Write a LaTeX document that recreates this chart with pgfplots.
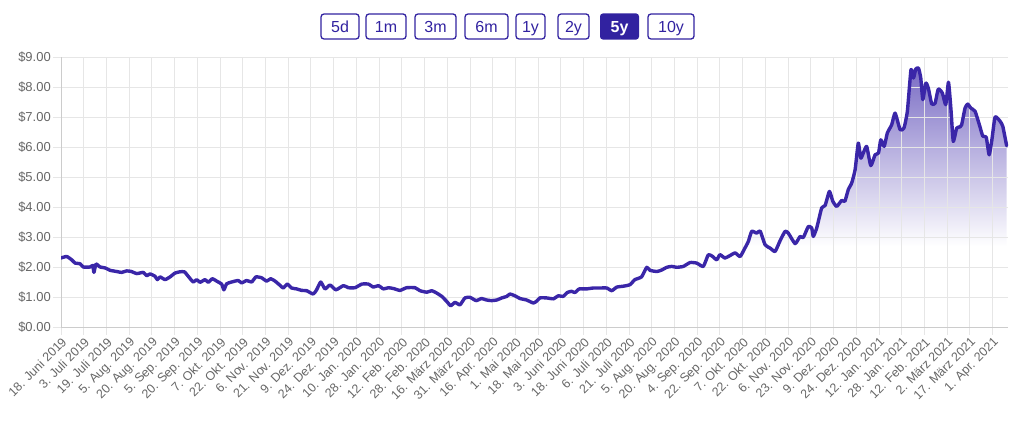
\documentclass[border=0pt]{standalone}
\usepackage{fontspec}
\setmainfont{Liberation Sans}
\usepackage{pgfplots}
\usepackage{pgfplotstable}
\pgfplotsset{compat=1.18}
\definecolor{ind}{HTML}{3A26A8}
\definecolor{btn}{HTML}{3122A0}
\definecolor{gridc}{HTML}{E6E6E6}
\definecolor{axc}{HTML}{CCCCCC}
\definecolor{lab}{HTML}{666666}
\pgfdeclareverticalshading{myfade}{100bp}{color(0bp)=(white); color(25bp)=(white); color(40.5bp)=(white); color(48bp)=(ind!15!white); color(60bp)=(ind!38!white); color(75bp)=(ind!68!white); color(100bp)=(ind!68!white)}
\pgfplotstableread{
x y
0.00 2.30
0.25 2.35
0.47 2.24
0.62 2.13
0.84 2.11
0.98 2.00
1.28 2.00
1.40 2.05
1.45 1.82
1.54 2.10
1.72 2.00
1.94 1.97
2.16 1.89
2.45 1.85
2.67 1.82
2.89 1.87
3.10 1.85
3.33 1.78
3.62 1.82
3.77 1.71
3.92 1.77
4.14 1.69
4.24 1.58
4.36 1.67
4.58 1.58
4.80 1.67
5.02 1.80
5.24 1.84
5.43 1.84
5.60 1.69
5.82 1.50
5.97 1.58
6.12 1.49
6.34 1.58
6.48 1.49
6.66 1.61
6.85 1.53
7.07 1.43
7.17 1.24
7.29 1.44
7.51 1.50
7.80 1.55
7.95 1.47
8.17 1.55
8.39 1.50
8.58 1.67
8.83 1.64
9.05 1.53
9.23 1.61
9.42 1.53
9.64 1.39
9.78 1.30
9.96 1.43
10.15 1.30
10.37 1.27
10.59 1.22
10.81 1.21
11.10 1.10
11.25 1.24
11.43 1.50
11.62 1.27
11.84 1.40
12.10 1.24
12.43 1.38
12.65 1.31
12.94 1.31
13.24 1.43
13.53 1.43
13.75 1.33
13.97 1.38
14.19 1.27
14.41 1.31
14.65 1.28
14.92 1.22
15.21 1.31
15.58 1.31
15.80 1.21
16.10 1.16
16.32 1.21
16.54 1.13
16.76 1.02
16.98 0.85
17.15 0.71
17.34 0.82
17.56 0.74
17.78 0.97
18.00 0.99
18.27 0.88
18.51 0.95
18.73 0.90
18.95 0.88
19.18 0.90
19.40 0.97
19.62 1.02
19.76 1.10
19.98 1.04
20.20 0.95
20.49 0.90
20.79 0.80
20.93 0.86
21.08 0.97
21.37 0.97
21.67 0.94
21.89 1.04
22.10 1.02
22.28 1.15
22.47 1.19
22.62 1.15
22.81 1.27
23.13 1.27
23.43 1.30
23.72 1.30
24.02 1.30
24.24 1.21
24.46 1.33
24.75 1.36
25.04 1.41
25.26 1.58
25.55 1.67
25.78 1.99
25.92 1.89
26.22 1.85
26.44 1.90
26.66 1.99
26.88 2.02
27.10 1.99
27.39 2.02
27.69 2.15
27.98 2.13
28.27 2.02
28.49 2.41
28.68 2.35
28.86 2.24
29.00 2.41
29.22 2.30
29.44 2.38
29.67 2.47
29.89 2.35
30.10 2.63
30.25 2.85
30.40 3.19
30.62 3.13
30.77 3.20
30.99 2.74
31.21 2.63
31.43 2.52
31.65 2.88
31.87 3.19
32.01 3.13
32.31 2.78
32.53 3.02
32.67 2.98
32.89 3.35
33.04 3.30
33.11 3.02
33.26 3.30
33.48 3.97
33.63 4.05
33.82 4.52
33.97 4.19
34.14 4.02
34.36 4.22
34.50 4.19
34.65 4.58
34.80 4.80
34.95 5.24
35.09 6.13
35.20 5.63
35.31 5.80
35.46 6.02
35.64 5.38
35.83 5.74
35.98 5.80
36.08 6.24
36.23 6.02
36.37 6.47
36.56 6.74
36.71 7.13
36.93 6.58
37.10 6.63
37.25 7.19
37.41 8.58
37.52 8.30
37.62 8.60
37.74 8.63
37.84 8.30
37.93 7.58
38.06 8.13
38.17 7.97
38.32 7.44
38.47 7.46
38.61 7.93
38.79 7.80
38.94 7.41
39.06 8.16
39.17 7.24
39.27 6.19
39.42 6.63
39.57 6.67
39.64 6.74
39.79 7.30
39.91 7.43
40.04 7.30
40.23 7.19
40.42 6.74
40.57 6.36
40.72 6.33
40.85 5.74
40.97 6.24
41.11 7.00
41.33 6.86
41.45 6.69
41.62 6.04
}\pricedata
\begin{document}
\begin{tikzpicture}
\foreach \xa/\xb/\t in {321/359/5d, 366/406/1m, 415/456/3m, 465/508/6m, 516/545/1y, 558/589/2y, 648/694/10y} {
  \draw[btn, line width=1.3pt, rounded corners=3pt] (\xa pt,393pt) rectangle (\xb pt,418pt);
  \pgfmathsetmacro{\xm}{(\xa+\xb)/2}
  \node[text=btn, font=\fontsize{16}{18}\selectfont, inner sep=0pt, anchor=base] at (\xm pt,399.8pt) {\t};
}
\fill[btn, rounded corners=3pt] (600pt,392.4pt) rectangle (639pt,418.6pt);
\node[text=white, font=\fontsize{16}{18}\selectfont\bfseries, inner sep=0pt, anchor=base] at (619.5pt,399.8pt) {5y};
\begin{axis}[
  at={(61pt,105pt)}, anchor=south west, scale only axis,
  width=947pt, height=270pt,
  xmin=0, xmax=41.68, ymin=0, ymax=9,
  set layers,
  axis lines=left, axis line style={-, axc, line width=1pt},
  xtick={0,...,41},
  xticklabels={18. Juni 2019, 3. Juli 2019, 19. Juli 2019, 5. Aug. 2019, 20. Aug. 2019, 5. Sep. 2019, 20. Sep. 2019, 7. Okt. 2019, 22. Okt. 2019, 6. Nov. 2019, 21. Nov. 2019, 9. Dez. 2019, 24. Dez. 2019, 10. Jan. 2020, 28. Jan. 2020, 12. Feb. 2020, 28. Feb. 2020, 16. März 2020, 31. März 2020, 16. Apr. 2020, 1. Mai 2020, 18. Mai 2020, 3. Juni 2020, 18. Juni 2020, 6. Juli 2020, 21. Juli 2020, 5. Aug. 2020, 20. Aug. 2020, 4. Sep. 2020, 22. Sep. 2020, 7. Okt. 2020, 22. Okt. 2020, 6. Nov. 2020, 23. Nov. 2020, 9. Dez. 2020, 24. Dez. 2020, 12. Jan. 2021, 28. Jan. 2021, 12. Feb. 2021, 2. März 2021, 17. März 2021, 1. Apr. 2021},
  ytick={0,...,9},
  yticklabels={\$0.00,\$1.00,\$2.00,\$3.00,\$4.00,\$5.00,\$6.00,\$7.00,\$8.00,\$9.00},
  grid=major, major grid style={gridc, line width=0.9pt},
  tick align=outside, major tick length=8pt,
  tick style={gridc, line width=0.9pt},
  xticklabel style={rotate=45, anchor=north east, font=\fontsize{12.5}{14}\selectfont, text=lab, inner sep=1pt},
  yticklabel style={font=\fontsize{13}{15}\selectfont, text=lab, inner sep=2pt},
]
\addplot[on layer=axis background, draw=none, shade, shading=myfade, smooth, tension=0.3] table[x=x,y=y] {\pricedata} \closedcycle;
\addplot[ind, line width=3.4pt, smooth, tension=0.3, line join=round, line cap=round] table[x=x,y=y] {\pricedata};
\end{axis}
\pgfresetboundingbox
\useasboundingbox (0pt,0pt) rectangle (1024pt,432pt);
\end{tikzpicture}
\end{document}
